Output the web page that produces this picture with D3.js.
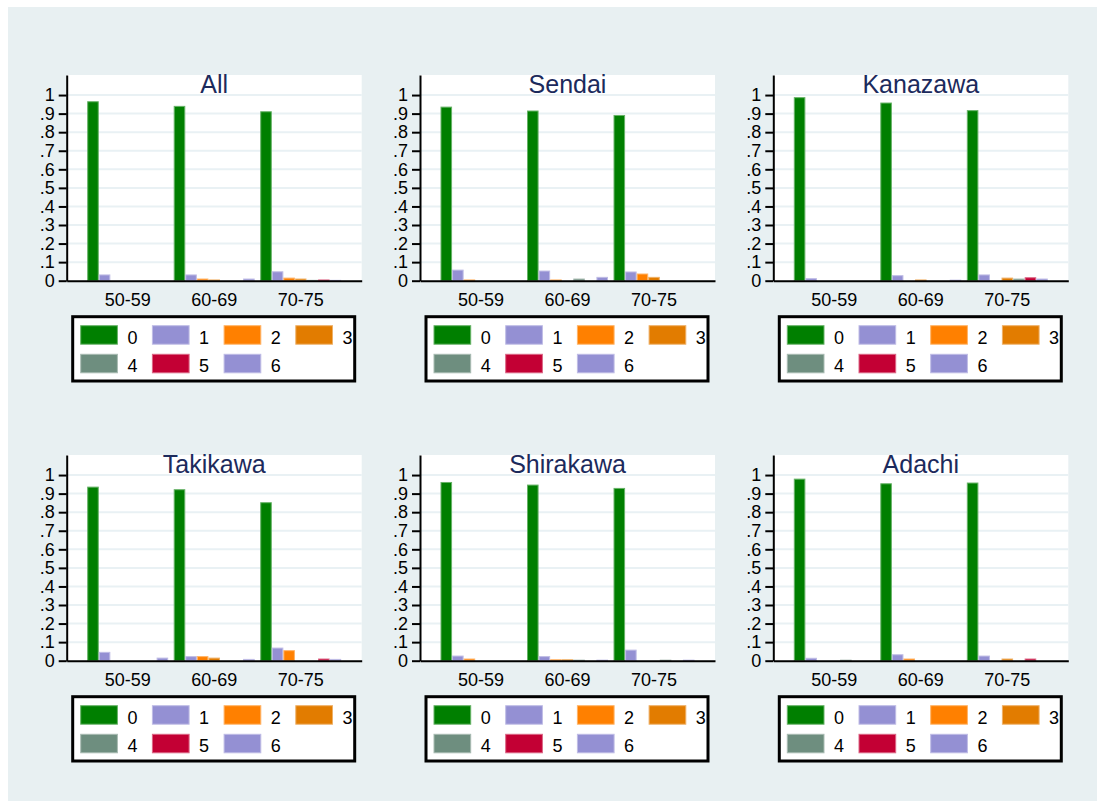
<!DOCTYPE html>
<html lang="en">
<head>
	<meta charset="UTF-8">
	<title>Bar Chart by city</title>
	<script src="https://d3js.org/d3.v7.min.js"></script>
	<style>
		body{
			margin: 0;
			background: #ffffff;
		}
		svg{
			display: block;
		}
		svg text{
			font-family: "Liberation Sans", Arial, helvetica, sans-serif;
		}
	</style>
</head>
<body>
	<div id="chart"></div>
	<script>
		// data
		var cities = ["All", "Sendai", "Kanazawa", "Takikawa", "Shirakawa", "Adachi"];
		var ageGroups = ["50-59", "60-69", "70-75"];
		var keys = ["0", "1", "2", "3", "4", "5", "6"];
		var keyColors = ["#007f00", "#9490d3", "#ff8000", "#e27c00", "#6e8e7f", "#c30034", "#9490d3"];
		var yTicks = [0, 0.1, 0.2, 0.3, 0.4, 0.5, 0.6, 0.7, 0.8, 0.9, 1];
		var yTickLabels = ["0", ".1", ".2", ".3", ".4", ".5", ".6", ".7", ".8", ".9", "1"];

		// one row per age group, one value per key 0..6
		var allVals = [[0.964, 0.031, 0, 0, 0, 0, 0], [0.939, 0.031, 0.009, 0.004, 0, 0, 0.009], [0.910, 0.048, 0.014, 0.009, 0.002, 0.004, 0.002]];
		var sendaiVals = [[0.935, 0.057, 0.004, 0, 0, 0, 0], [0.914, 0.052, 0.004, 0, 0.009, 0, 0.018], [0.890, 0.047, 0.036, 0.018, 0, 0, 0]];
		var kanazawaVals = [[0.986, 0.011, 0, 0, 0, 0, 0], [0.957, 0.027, 0, 0.004, 0, 0, 0.003], [0.916, 0.031, 0, 0.014, 0.009, 0.016, 0.009]];
		var takikawaVals = [[0.935, 0.045, 0, 0, 0, 0, 0.014], [0.921, 0.022, 0.022, 0.014, 0, 0, 0.007], [0.851, 0.068, 0.054, 0, 0, 0.009, 0.007]];
		var shirakawaVals = [[0.960, 0.025, 0.009, 0, 0, 0, 0], [0.946, 0.022, 0.005, 0.005, 0.003, 0, 0.003], [0.928, 0.057, 0, 0, 0.003, 0, 0.003]];
		var adachiVals = [[0.978, 0.013, 0, 0, 0.003, 0, 0], [0.953, 0.032, 0.009, 0, 0, 0, 0], [0.957, 0.025, 0, 0.009, 0, 0.009, 0]];
		var cityVals = [allVals, sendaiVals, kanazawaVals, takikawaVals, shirakawaVals, adachiVals];

		var width = 1097;
		var height = 801;
		var plotW = 295;
		var plotH = 205.7;
		var colStep = 353.3;
		var rowStep = 380;

		var canvas = d3.select('#chart').append('svg')
			.attr('width', width)
			.attr('height', height);

		// graph region background
		canvas.append('rect')
			.attr('x', 8).attr('y', 7)
			.attr('width', width - 8).attr('height', height - 7)
			.attr('fill', '#e8f0f2');

		var xScale = d3.scaleBand().domain(ageGroups).range([0, plotW])
			.paddingInner(0.064).paddingOuter(0.237);
		var kScale = d3.scaleBand().domain(keys).range([0, xScale.bandwidth()]);
		var yScale = d3.scaleLinear().domain([0, 1.108]).range([plotH, 0]);

		cities.forEach(function(city, i){
			var col = i % 3, row = Math.floor(i / 3);
			var g = canvas.append('g')
				.attr('transform', 'translate(' + (66.7 + col * colStep) + ',' + (75 + row * rowStep) + ')');

			// plot region
			g.append('rect')
				.attr('width', plotW).attr('height', plotH)
				.attr('fill', '#ffffff');

			g.selectAll('.grid')
				.data(yTicks.slice(1))
				.enter().append('line')
				.attr('x1', 0).attr('x2', plotW)
				.attr('y1', function(d){ return yScale(d); })
				.attr('y2', function(d){ return yScale(d); })
				.attr('stroke', '#e9f1f4')
				.attr('stroke-width', 2);

			g.append('text')
				.attr('x', plotW / 2).attr('y', 18)
				.attr('text-anchor', 'middle')
				.style('font-size', '25px')
				.attr('fill', '#1c2a5c')
				.text(city);

			// bars
			var groups = g.selectAll('.grp')
				.data(cityVals[i])
				.enter().append('g')
				.attr('transform', function(d, j){ return 'translate(' + xScale(ageGroups[j]) + ',0)'; });

			groups.selectAll('rect')
				.data(function(d){ return d.map(function(v, k){ return {k: k, v: v}; }).filter(function(e){ return e.v > 0; }); })
				.enter().append('rect')
				.attr('x', function(d){ return kScale(keys[d.k]) + 0.5; })
				.attr('width', kScale.bandwidth() - 1)
				.attr('y', function(d){ return yScale(d.v); })
				.attr('height', function(d){ return plotH - yScale(d.v); })
				.attr('fill', function(d){ return keyColors[d.k]; })
				.attr('stroke', function(d){ return d3.interpolateRgb(keyColors[d.k], '#ffffff')(0.4); })
				.attr('stroke-width', 1);

			// axes
			var yAxis = d3.axisLeft(yScale)
				.tickValues(yTicks)
				.tickFormat(function(d, j){ return yTickLabels[j]; })
				.tickSize(8).tickSizeOuter(0).tickPadding(4);
			var ya = g.append('g').call(yAxis);
			ya.select('.domain').attr('stroke-width', 2);
			ya.selectAll('.tick line').attr('stroke-width', 2);
			ya.selectAll('text').style('font-size', '18px').attr('fill', '#000');

			var xAxis = d3.axisBottom(xScale).tickSize(0).tickSizeOuter(0).tickPadding(13);
			var xa = g.append('g').attr('transform', 'translate(0,' + plotH + ')').call(xAxis);
			xa.select('.domain').attr('stroke-width', 2);
			xa.selectAll('text').style('font-size', '18px').attr('fill', '#000');

			// legend
			var lg = g.append('g').attr('transform', 'translate(6,' + (241.7) + ')');
			lg.append('rect')
				.attr('width', 282).attr('height', 64.3)
				.attr('fill', '#ffffff')
				.attr('stroke', '#000')
				.attr('stroke-width', 3);
			var items = lg.selectAll('.item')
				.data(keys)
				.enter().append('g')
				.attr('transform', function(d, k){ return 'translate(' + (8 + (k % 4) * 71.7) + ',' + (9 + Math.floor(k / 4) * 28.6) + ')'; });
			items.append('rect')
				.attr('width', 36.7).attr('height', 18.5)
				.attr('fill', function(d, k){ return keyColors[k]; })
				.attr('stroke', function(d, k){ return d3.interpolateRgb(keyColors[k], '#ffffff')(0.4); })
				.attr('stroke-width', 1);
			items.append('text')
				.attr('x', 46.7).attr('y', 18)
				.style('font-size', '18px')
				.attr('fill', '#000')
				.text(function(d){ return d; });
		});
	</script>
</body>
</html>
